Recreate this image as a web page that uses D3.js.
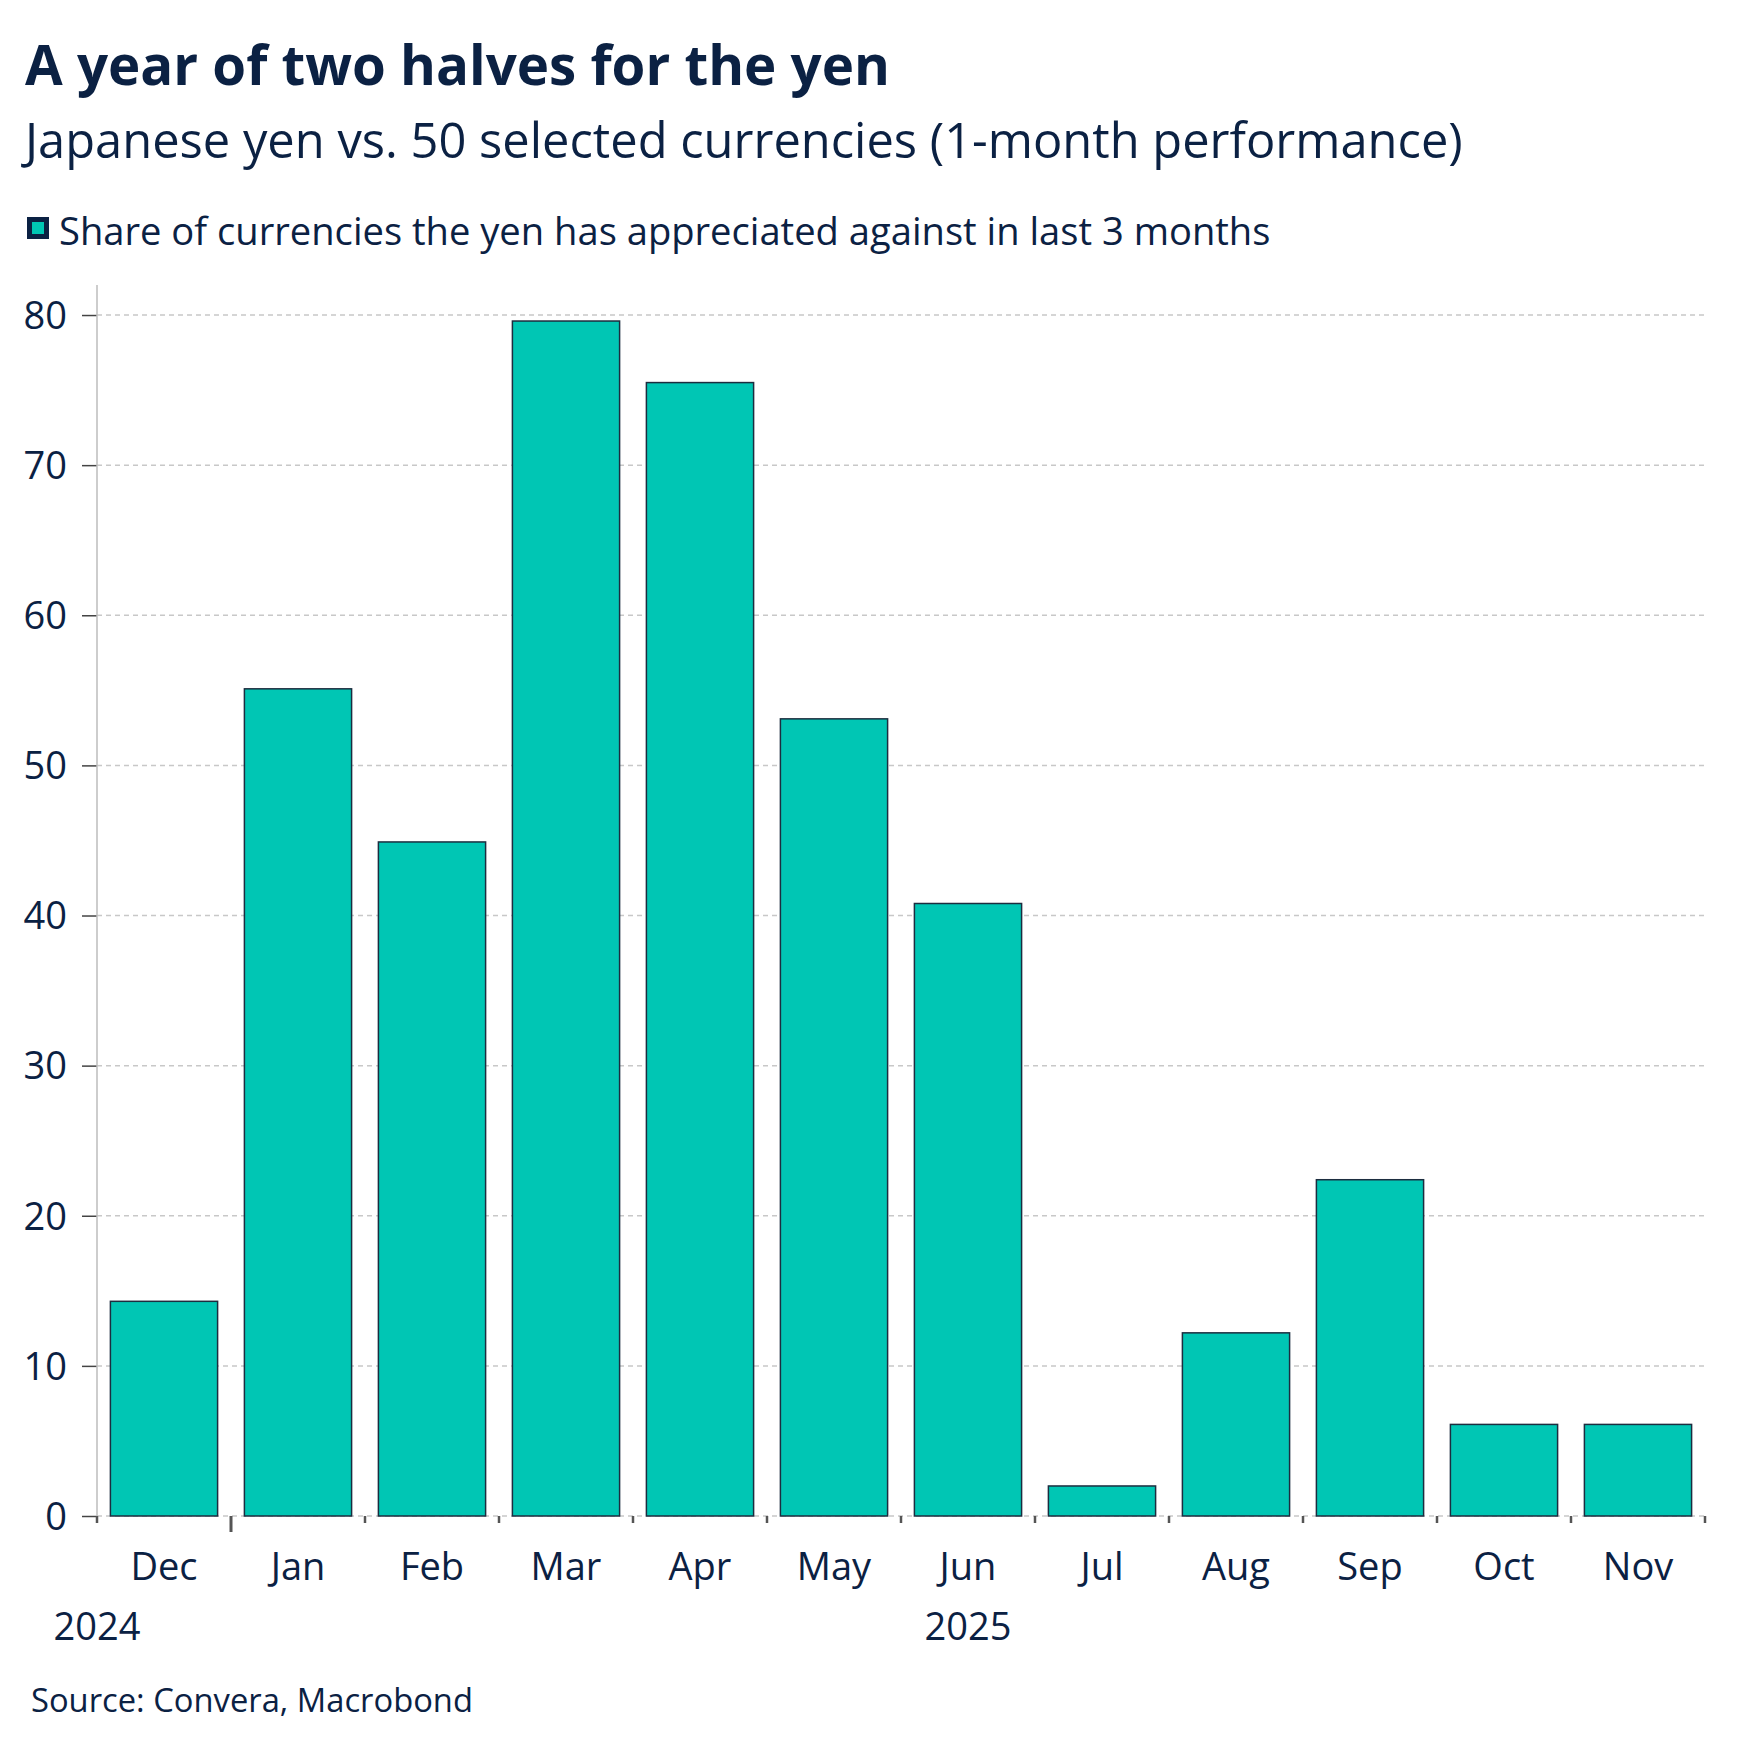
<!DOCTYPE html>
<html>
<head>
<meta charset="utf-8">
<script src="https://cdn.jsdelivr.net/npm/d3@7"></script>
<style>
  html, body { margin: 0; padding: 0; background: #ffffff; }
  svg { display: block; }
  text { font-family: "Open Sans", "Noto Sans", sans-serif; }
</style>
</head>
<body>
<svg id="chart" width="1751" height="1754"></svg>
<script>
// ---- Data ----
const months = ["Dec", "Jan", "Feb", "Mar", "Apr", "May", "Jun", "Jul", "Aug", "Sep", "Oct", "Nov"];
const shares = [14.3, 55.1, 44.9, 79.6, 75.5, 53.1, 40.8, 2.0, 12.2, 22.4, 6.1, 6.1];
const yTicks = [0, 10, 20, 30, 40, 50, 60, 70, 80];
const yearLabels = ["2024", "2025"];
const yearAnchors = [null, "Jun"]; // 2024 at the left edge, 2025 under June
const yearBoundary = "Jan";

const titleText = "A year of two halves for the yen";
const subtitleText = "Japanese yen vs. 50 selected currencies (1-month performance)";
const legendText = "Share of currencies the yen has appreciated against in last 3 months";
const sourceText = "Source: Convera, Macrobond";

// ---- Style ----
const navy = "#0b2143";
const teal = "#00c6b4";
const barStroke = "#1c2d3f";

const svg = d3.select("#chart");

const plot = { left: 97, right: 1705, top: 285, bottom: 1516 };

const x = d3.scaleBand().domain(months).range([plot.left, plot.right]).paddingInner(0.2).paddingOuter(0.1);
const y = d3.scaleLinear().domain([0, 82]).range([plot.bottom, plot.top]);

function fit(sel, target) {
  const w = sel.node().getComputedTextLength();
  const fs = parseFloat(sel.attr("font-size"));
  sel.attr("font-size", (fs * target / w).toFixed(2));
  return sel;
}

// Title block
fit(svg.append("text").attr("x", 25).attr("y", 85).attr("font-size", 57).attr("font-weight", 700)
  .attr("fill", navy).text(titleText), 865);
fit(svg.append("text").attr("x", 25).attr("y", 158).attr("font-size", 48)
  .attr("fill", navy).text(subtitleText), 1438);

// Legend
svg.append("rect").attr("x", 27).attr("y", 217).attr("width", 22).attr("height", 22).attr("fill", navy);
svg.append("rect").attr("x", 32).attr("y", 222).attr("width", 12).attr("height", 12).attr("fill", teal);
fit(svg.append("text").attr("x", 59).attr("y", 245).attr("font-size", 38)
  .attr("fill", navy).text(legendText), 1212);

// Gridlines
svg.append("g").selectAll("line").data(yTicks).join("line")
  .attr("x1", plot.left).attr("x2", plot.right)
  .attr("y1", d => y(d)).attr("y2", d => y(d))
  .attr("stroke", "#c8c8c8").attr("stroke-width", 1.5).attr("stroke-dasharray", "5,4");

// Y axis
const yAxis = svg.append("g").attr("transform", `translate(${plot.left},0)`)
  .call(d3.axisLeft(y).tickValues(yTicks).tickSize(15).tickPadding(15).tickFormat(d3.format("d")));
yAxis.select(".domain").remove();
yAxis.selectAll(".tick line").attr("stroke", "#444").attr("stroke-width", 1.5);
yAxis.selectAll(".tick text").attr("fill", navy).attr("font-size", 38)
  .attr("font-family", "'Open Sans', 'Noto Sans', sans-serif").attr("dy", "0.35em");
svg.append("line").attr("x1", plot.left).attr("x2", plot.left)
  .attr("y1", plot.top).attr("y2", plot.bottom).attr("stroke", "#bdbdbd").attr("stroke-width", 1.5);

// Bars
svg.append("g").selectAll("rect").data(months).join("rect")
  .attr("x", d => x(d))
  .attr("width", x.bandwidth())
  .attr("y", (d, i) => y(shares[i]))
  .attr("height", (d, i) => y(0) - y(shares[i]))
  .attr("fill", teal).attr("stroke", barStroke).attr("stroke-width", 1.5);

// X tick marks at band boundaries
const step = x.step();
const bounds = months.map(m => x(m) - x.paddingOuter() * step + (x(m) - x(months[0])) * 0).map((v, i) => plot.left + i * step);
bounds.push(plot.right);
svg.append("g").selectAll("line").data(bounds).join("line")
  .attr("x1", d => d).attr("x2", d => d)
  .attr("y1", plot.bottom)
  .attr("y2", (d, i) => (months[i] === yearBoundary ? plot.bottom + 16 : plot.bottom + 7))
  .attr("stroke", "#555").attr("stroke-width", (d, i) => (months[i] === yearBoundary ? 3 : 2.5));

// Month labels
svg.append("g").selectAll("text").data(months).join("text")
  .attr("x", d => x(d) + x.bandwidth() / 2)
  .attr("y", 1580)
  .attr("text-anchor", "middle")
  .attr("font-size", 38)
  .attr("fill", navy)
  .text(d => d);

// Year labels
svg.append("g").selectAll("text").data(yearLabels).join("text")
  .attr("x", (d, i) => yearAnchors[i] === null ? plot.left : x(yearAnchors[i]) + x.bandwidth() / 2)
  .attr("y", 1640)
  .attr("text-anchor", "middle")
  .attr("font-size", 38)
  .attr("fill", navy)
  .text(d => d);

// Source
fit(svg.append("text").attr("x", 31).attr("y", 1712).attr("font-size", 34)
  .attr("fill", navy).text(sourceText), 442);
</script>
</body>
</html>
